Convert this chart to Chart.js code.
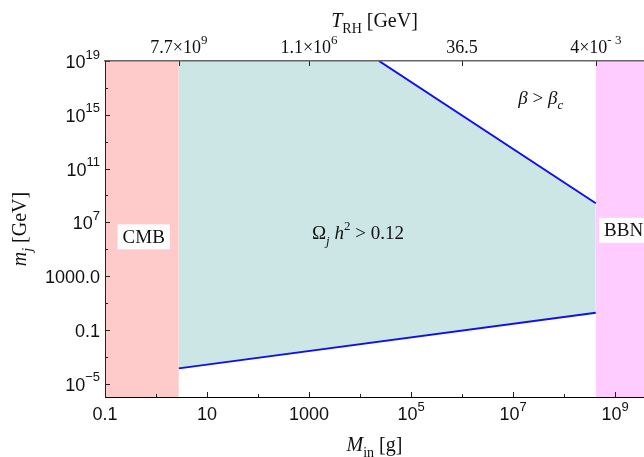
<!DOCTYPE html>
<html>
<head>
<meta charset="utf-8">
<script src="https://cdn.jsdelivr.net/npm/chart.js@4.4.1/dist/chart.umd.min.js"></script>
<style>
    html, body { margin: 0; padding: 0; background: #ffffff; overflow: hidden; }
    #wrap { position: relative; width: 644px; height: 457px; }
</style>
</head>
<body>
<div id="wrap"><canvas id="relicChart"></canvas></div>
<script>
// axis ranges (M_in in g, m_j in GeV)
const xMin = 0.1;
const xMax = 3.7e9;
const yMin = 1e-6;
const yMax = 1e19;

// bottom axis ticks
const xTickValues = [0.1, 10, 1000, 1e5, 1e7, 1e9];
const xTickLabels = ['0.1', '10', '1000', '10^5', '10^7', '10^9'];
const xMinorTicks = [1, 100, 1e4, 1e6, 1e8];

// left axis ticks
const yTickValues = [1e-5, 0.1, 1000, 1e7, 1e11, 1e15, 1e19];
const yTickLabels = ['10^−5', '0.1', '1000.0', '10^7', '10^11', '10^15', '10^19'];
const yMinorTicks = [1e-3, 10, 1e5, 1e9, 1e13, 1e17];

// top axis: reheating temperature at given M_in
const topTickValues = [2.8, 1000, 1e6, 4.2e8];
const topTickLabels = ['7.7×10^9', '1.1×10^6', '36.5', '4×10^- 3'];

// excluded strips
const cmbM = [0.1, 2.8];
const cmbMj = [1e19, 1e19];
const bbnM = [4.2e8, 3.7e9];
const bbnMj = [1e19, 1e19];

// overabundance region boundaries
const upperLineM = [2.36e4, 4.2e8];
const upperLineMj = [1e19, 2.6e8];
const lowerLineM = [2.8, 4.2e8];
const lowerLineMj = [1.35e-4, 1.86];
const regionTopM = [2.8, 2.36e4, 4.2e8];
const regionTopMj = [1e19, 1e19, 2.6e8];

// labels placed in data coordinates
const cmbLabelPos = [0.574, 9e5];
const bbnLabelPos = [6.1e8, 2.75e6];
const omegaLabelPos = [9.1e3, 1.6e6];
const betaLabelPos = [3.5e7, 1.9e16];

const SANS = '"Liberation Sans", Arial, sans-serif';
const SERIF = '"Liberation Serif", "Times New Roman", serif';

function toPoints(xs, ys) {
    return xs.map(function (x, i) { return { x: x, y: ys[i] }; });
}

function parseLabel(str) {
    let p = str.split('^');
    let parts = [{ t: p[0] }];
    if (p.length > 1) parts.push({ t: p[1], sup: true });
    return parts;
}

function partFont(p, size, family) {
    let s = (p.sup || p.sub) ? Math.round(size * 0.7) : size;
    return (p.it ? 'italic ' : '') + s + 'px ' + family;
}

function drawRich(ctx, parts, x, y, size, family, align) {
    let w = 0;
    parts.forEach(function (p) {
        ctx.font = partFont(p, size, family);
        w += ctx.measureText(p.t).width;
    });
    let cx = x;
    if (align === 'center') cx = x - w / 2;
    if (align === 'right') cx = x - w;
    ctx.textAlign = 'left';
    ctx.textBaseline = 'alphabetic';
    parts.forEach(function (p) {
        ctx.font = partFont(p, size, family);
        let dy = p.sup ? -size * 0.52 : (p.sub ? size * 0.28 : 0);
        ctx.fillText(p.t, cx, y + dy);
        cx += ctx.measureText(p.t).width;
    });
    return w;
}

const axisDecor = {
    id: 'axisDecor',
    afterDatasetsDraw: function (chart) {
        const ctx = chart.ctx;
        const xs = chart.scales.x;
        const ys = chart.scales.y;
        const area = chart.chartArea;
        ctx.save();
        ctx.strokeStyle = '#222';
        ctx.lineWidth = 1;

        // inward tick marks
        function tickX(v, len, top) {
            let px = Math.round(xs.getPixelForValue(v)) + 0.5;
            let y0 = top ? area.top : area.bottom;
            ctx.beginPath();
            ctx.moveTo(px, y0);
            ctx.lineTo(px, top ? y0 + len : y0 - len);
            ctx.stroke();
        }
        function tickY(v, len) {
            let py = Math.round(ys.getPixelForValue(v)) + 0.5;
            ctx.beginPath();
            ctx.moveTo(area.left, py);
            ctx.lineTo(area.left + len, py);
            ctx.stroke();
        }
        xTickValues.forEach(function (v) { tickX(v, 5, false); });
        xMinorTicks.forEach(function (v) { tickX(v, 3, false); });
        yTickValues.forEach(function (v) { tickY(v, 5); });
        yMinorTicks.forEach(function (v) { tickY(v, 3); });
        topTickValues.forEach(function (v) { tickX(v, 5, true); });

        // tick labels
        ctx.fillStyle = '#111';
        xTickValues.forEach(function (v, i) {
            drawRich(ctx, parseLabel(xTickLabels[i]), xs.getPixelForValue(v), area.bottom + 23, 18, SANS, 'center');
        });
        yTickValues.forEach(function (v, i) {
            drawRich(ctx, parseLabel(yTickLabels[i]), area.left - 5, ys.getPixelForValue(v) + 7, 18, SANS, 'right');
        });
        topTickValues.forEach(function (v, i) {
            drawRich(ctx, parseLabel(topTickLabels[i]), xs.getPixelForValue(v), area.top - 8, 18, SERIF, 'center');
        });

        // axis titles
        let midX = (area.left + area.right) / 2;
        let midY = (area.top + area.bottom) / 2;
        drawRich(ctx, [{ t: 'M', it: true }, { t: 'in', sub: true }, { t: ' [g]' }], midX, 451, 20, SERIF, 'center');
        drawRich(ctx, [{ t: 'T', it: true }, { t: 'RH', sub: true }, { t: ' [GeV]' }], midX, 27, 20, SERIF, 'center');
        ctx.save();
        ctx.translate(26, midY);
        ctx.rotate(-Math.PI / 2);
        drawRich(ctx, [{ t: 'm', it: true }, { t: 'j', it: true, sub: true }, { t: ' [GeV]' }], 0, 0, 20, SERIF, 'center');
        ctx.restore();

        // region labels
        function boxed(parts, pos, align) {
            let px = xs.getPixelForValue(pos[0]);
            let py = ys.getPixelForValue(pos[1]);
            let w = 0;
            parts.forEach(function (p) { ctx.font = partFont(p, 19, SERIF); w += ctx.measureText(p.t).width; });
            let left = align === 'center' ? px - w / 2 : px;
            ctx.fillStyle = '#ffffff';
            ctx.fillRect(left - 5, py - 12, w + 10, 25);
            ctx.fillStyle = '#111';
            drawRich(ctx, parts, left, py + 6.5, 19, SERIF, 'left');
        }
        boxed([{ t: 'CMB' }], cmbLabelPos, 'center');
        boxed([{ t: 'BBN' }], bbnLabelPos, 'left');

        ctx.fillStyle = '#111';
        drawRich(ctx, [{ t: 'Ω' }, { t: 'j', it: true, sub: true }, { t: ' ' }, { t: 'h', it: true }, { t: '2', sup: true }, { t: ' > 0.12' }],
            xs.getPixelForValue(omegaLabelPos[0]), ys.getPixelForValue(omegaLabelPos[1]) + 6.5, 19, SERIF, 'center');
        drawRich(ctx, [{ t: 'β', it: true }, { t: ' > ' }, { t: 'β', it: true }, { t: 'c', it: true, sub: true }],
            xs.getPixelForValue(betaLabelPos[0]), ys.getPixelForValue(betaLabelPos[1]) + 6.5, 19, SERIF, 'center');
        ctx.restore();
    }
};

const blue = '#1010ee';

new Chart(document.getElementById('relicChart'), {
    type: 'line',
    data: {
        datasets: [
            {
                label: 'upper',
                data: toPoints(upperLineM, upperLineMj),
                borderColor: blue,
                borderWidth: 2,
                pointRadius: 0,
                fill: false
            },
            {
                label: 'lower',
                data: toPoints(lowerLineM, lowerLineMj),
                borderColor: blue,
                borderWidth: 2,
                pointRadius: 0,
                fill: false
            },
            {
                label: 'overabundance',
                data: toPoints(regionTopM, regionTopMj),
                borderWidth: 0,
                borderColor: 'rgba(0,0,0,0)',
                backgroundColor: '#cce5e5',
                pointRadius: 0,
                fill: { target: 1 }
            },
            {
                label: 'CMB',
                data: toPoints(cmbM, cmbMj),
                borderWidth: 0,
                borderColor: 'rgba(0,0,0,0)',
                backgroundColor: '#ffcaca',
                pointRadius: 0,
                fill: 'start'
            },
            {
                label: 'BBN',
                data: toPoints(bbnM, bbnMj),
                borderWidth: 0,
                borderColor: 'rgba(0,0,0,0)',
                backgroundColor: '#ffccff',
                pointRadius: 0,
                fill: 'start'
            }
        ]
    },
    options: {
        responsive: true,
        maintainAspectRatio: false,
        animation: false,
        layout: { padding: 0 },
        plugins: {
            legend: { display: false },
            tooltip: { enabled: false }
        },
        scales: {
            x: {
                type: 'logarithmic',
                position: 'bottom',
                min: xMin,
                max: xMax,
                grid: { display: false },
                ticks: { display: false },
                border: { display: true, color: '#000', width: 1, z: 2 },
                afterFit: function (s) { s.height = 60; }
            },
            x2: {
                type: 'logarithmic',
                position: 'top',
                min: xMin,
                max: xMax,
                grid: { display: false },
                ticks: { display: false },
                border: { display: true, color: '#666', width: 1.5, z: 2 },
                afterFit: function (s) { s.height = 61; }
            },
            y: {
                type: 'logarithmic',
                min: yMin,
                max: yMax,
                grid: { display: false },
                ticks: { display: false },
                border: { display: true, color: '#222', width: 1, z: 2 },
                afterFit: function (s) { s.width = 105; }
            }
        }
    },
    plugins: [axisDecor]
});
</script>
</body>
</html>
